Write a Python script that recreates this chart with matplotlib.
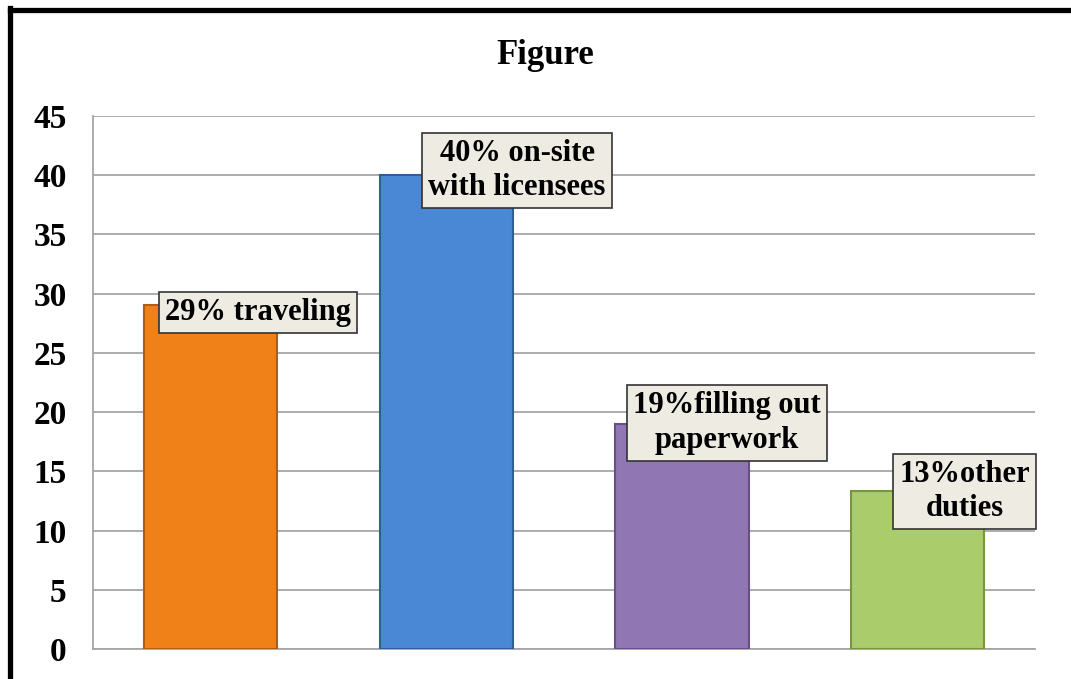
import matplotlib.pyplot as plt
from matplotlib.lines import Line2D

categories = ["traveling", "on-site with licensees", "filling out paperwork", "other duties"]
values = [29, 40, 19, 13.3]
labels = ["29% traveling", "40% on-site\nwith licensees", "19%filling out\npaperwork", "13%other\nduties"]
colors = ["#F08119", "#4A88D6", "#9077B4", "#ABCC6A"]
edges = ["#B25E10", "#2F5E9C", "#65508A", "#78963F"]
y_ticks = [0, 5, 10, 15, 20, 25, 30, 35, 40, 45]

# label offsets from the bar top (x in category units, y in data units)
label_dx = [0.2, 0.3, 0.19, 0.2]
label_dy = [-0.6, 0.4, 0.1, 0.0]

plt.rcParams["font.family"] = ["Liberation Serif", "DejaVu Serif"]
plt.rcParams["font.weight"] = "bold"

fig = plt.figure(figsize=(10.71, 6.79), dpi=100)
ax = fig.add_axes([0.0868, 0.0442, 0.88, 0.785])

x = list(range(len(values)))
ax.bar(x, values, width=0.565, color=colors, edgecolor=edges, linewidth=1.5, zorder=3)

for i in x:
    ax.text(i + label_dx[i], values[i] + label_dy[i], labels[i], ha="center", va="center",
            fontsize=22, fontweight="bold", linespacing=1.25, zorder=5,
            bbox=dict(boxstyle="square,pad=0.2", facecolor="#EEEBE3",
                      edgecolor="#333333", linewidth=1.2))

ax.set_xlim(-0.5, len(values) - 0.5)
ax.set_ylim(0, 45)
ax.set_yticks(y_ticks)
ax.set_yticklabels([str(t) for t in y_ticks], fontsize=24, fontweight="bold")
ax.tick_params(axis="y", length=0, pad=19)
ax.set_xticks([])
ax.grid(axis="y", color="#A6A6A6", linewidth=1.3, zorder=0)
for side in ["top", "right"]:
    ax.spines[side].set_visible(False)
for side in ["left", "bottom"]:
    ax.spines[side].set_color("#A6A6A6")
    ax.spines[side].set_linewidth(1.3)

fig.text(545 / 1071, 1 - 55 / 679, "Figure", ha="center", va="center",
         fontsize=25, fontweight="bold")

# thick black frame on the top and left edge
fig.add_artist(Line2D([9.5 / 1071, 1.0], [1 - 9.5 / 679, 1 - 9.5 / 679],
                      transform=fig.transFigure, color="black", linewidth=3.8))
fig.add_artist(Line2D([9.5 / 1071, 9.5 / 1071], [0, 1 - 7.5 / 679],
                      transform=fig.transFigure, color="black", linewidth=3.8))

fig.savefig("out.png", dpi=100)
